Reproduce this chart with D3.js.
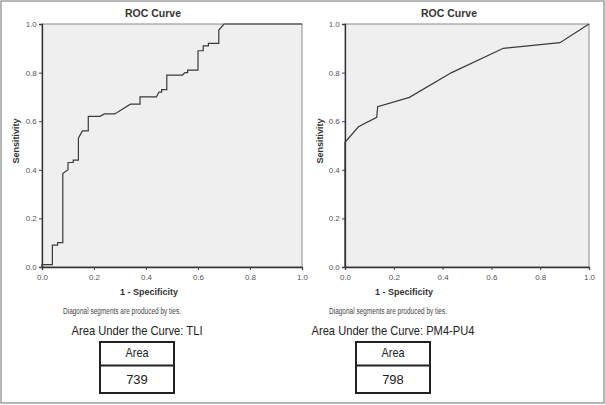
<!DOCTYPE html>
<html><head><meta charset="utf-8">
<script src="https://cdn.jsdelivr.net/npm/d3@7"></script>
<style>body{margin:0;background:#fff}svg{display:block}text{font-family:"Liberation Sans",Arial,sans-serif}</style>
</head><body><svg id="c" width="605" height="405"></svg>
<script>
const tickValues = [0, 0.2, 0.4, 0.6, 0.8, 1.0];
const tliFpr  = [0,0,0.04,0.04,0.06,0.06,0.08,0.08,0.10,0.10,0.12,0.12,0.14,0.14,0.155,0.178,0.178,0.223,0.24,0.28,0.34,0.377,0.377,0.44,0.45,0.46,0.46,0.48,0.48,0.54,0.55,0.56,0.56,0.60,0.60,0.62,0.62,0.64,0.64,0.68,0.68,0.70,1.0];
const tliSens = [0,0.01,0.01,0.09,0.09,0.10,0.10,0.385,0.40,0.43,0.43,0.44,0.44,0.53,0.56,0.56,0.62,0.62,0.63,0.63,0.67,0.67,0.70,0.70,0.72,0.72,0.73,0.73,0.79,0.79,0.80,0.80,0.81,0.81,0.89,0.89,0.91,0.91,0.92,0.92,0.975,1.0,1.0];
const pmFpr  = [0,0,0.055,0.13,0.134,0.264,0.437,0.649,0.881,1.0];
const pmSens = [0,0.513,0.577,0.616,0.66,0.698,0.80,0.90,0.923,1.0];
const panelNames = ["TLI", "PM4-PU4"];
const areaValues = ["739", "798"];

const svg = d3.select("#c");
svg.append("rect").attr("x",1).attr("y",1).attr("width",603).attr("height",402)
  .attr("fill","#fff").attr("stroke","#888").attr("stroke-width",1.2);

const panels = [
  {x0:42, x1:302, fpr:tliFpr, sens:tliSens, titleX:153, ylabX:16, xlabX:149, noteX:122, aucX:137, aucW:131, tbl:[100,174]},
  {x0:345, x1:589, fpr:pmFpr, sens:pmSens, titleX:449, ylabX:320, xlabX:404, noteX:388, aucX:393, aucW:163, tbl:[356,430]}
];
const yTop = 24, yBot = 267;

panels.forEach((p, i) => {
  const x = d3.scaleLinear().domain([0,1]).range([p.x0, p.x1]);
  const y = d3.scaleLinear().domain([0,1]).range([yBot, yTop]);
  const g = svg.append("g");
  g.append("rect").attr("x",p.x0).attr("y",yTop).attr("width",p.x1-p.x0).attr("height",yBot-yTop)
    .attr("fill","#efefef").attr("stroke","#8a8a8a").attr("stroke-width",1);
  const xa = g.append("g").attr("transform",`translate(0,${yBot})`)
    .call(d3.axisBottom(x).tickValues(tickValues).tickFormat(d3.format(".1f")).tickSizeOuter(0).tickSize(3));
  const ya = g.append("g").attr("transform",`translate(${p.x0},0)`)
    .call(d3.axisLeft(y).tickValues(tickValues).tickFormat(d3.format(".1f")).tickSizeOuter(0).tickSize(3));
  [xa, ya].forEach(a => {
    a.select(".domain").attr("stroke","#333").attr("stroke-width",1.3);
    a.selectAll(".tick line").attr("stroke","#444");
    a.selectAll(".tick text").attr("fill","#555").style("font-size","8px");
  });
  xa.selectAll(".tick text").attr("dy","0.9em");
  ya.selectAll(".tick text").attr("dx","0.1em");
  const pts = p.fpr.map((v, k) => [v, p.sens[k]]);
  g.append("path").datum(pts)
    .attr("d", d3.line().x(d => x(d[0])).y(d => y(d[1])))
    .attr("fill","none").attr("stroke","#3a3a3a").attr("stroke-width",1.2);
  g.append("text").attr("x",p.titleX).attr("y",17).attr("text-anchor","middle")
    .style("font-size","10.5px").style("font-weight","bold").attr("fill","#333").text("ROC Curve");
  g.append("text").attr("transform",`translate(${p.ylabX+3},141) rotate(-90)`).attr("text-anchor","middle")
    .style("font-size","9px").style("font-weight","bold").attr("fill","#333").text("Sensitivity");
  g.append("text").attr("x",p.xlabX).attr("y",295).attr("text-anchor","middle")
    .style("font-size","9px").style("font-weight","bold").attr("fill","#333").text("1 - Specificity");
  g.append("text").attr("x",p.noteX).attr("y",314).attr("text-anchor","middle")
    .attr("textLength",118).attr("lengthAdjust","spacingAndGlyphs")
    .style("font-size","8.5px").attr("fill","#444").text("Diagonal segments are produced by ties.");
  g.append("text").attr("x",p.aucX).attr("y",335).attr("text-anchor","middle")
    .attr("textLength",p.aucW).attr("lengthAdjust","spacingAndGlyphs")
    .style("font-size","13.5px").attr("fill","#222").text("Area Under the Curve: " + panelNames[i]);
  const [tx0, tx1] = p.tbl;
  g.append("rect").attr("x",tx0).attr("y",342).attr("width",tx1-tx0).attr("height",51)
    .attr("fill","#fff").attr("stroke","#222").attr("stroke-width",2);
  g.append("line").attr("x1",tx0).attr("x2",tx1).attr("y1",365.5).attr("y2",365.5)
    .attr("stroke","#222").attr("stroke-width",2);
  g.append("text").attr("x",(tx0+tx1)/2).attr("y",357).attr("text-anchor","middle")
    .attr("textLength",23).attr("lengthAdjust","spacingAndGlyphs")
    .style("font-size","13px").attr("fill","#222").text("Area");
  g.append("text").attr("x",(tx0+tx1)/2).attr("y",384).attr("text-anchor","middle")
    .style("font-size","13px").attr("fill","#222").text(areaValues[i]);
});
</script></body></html>
